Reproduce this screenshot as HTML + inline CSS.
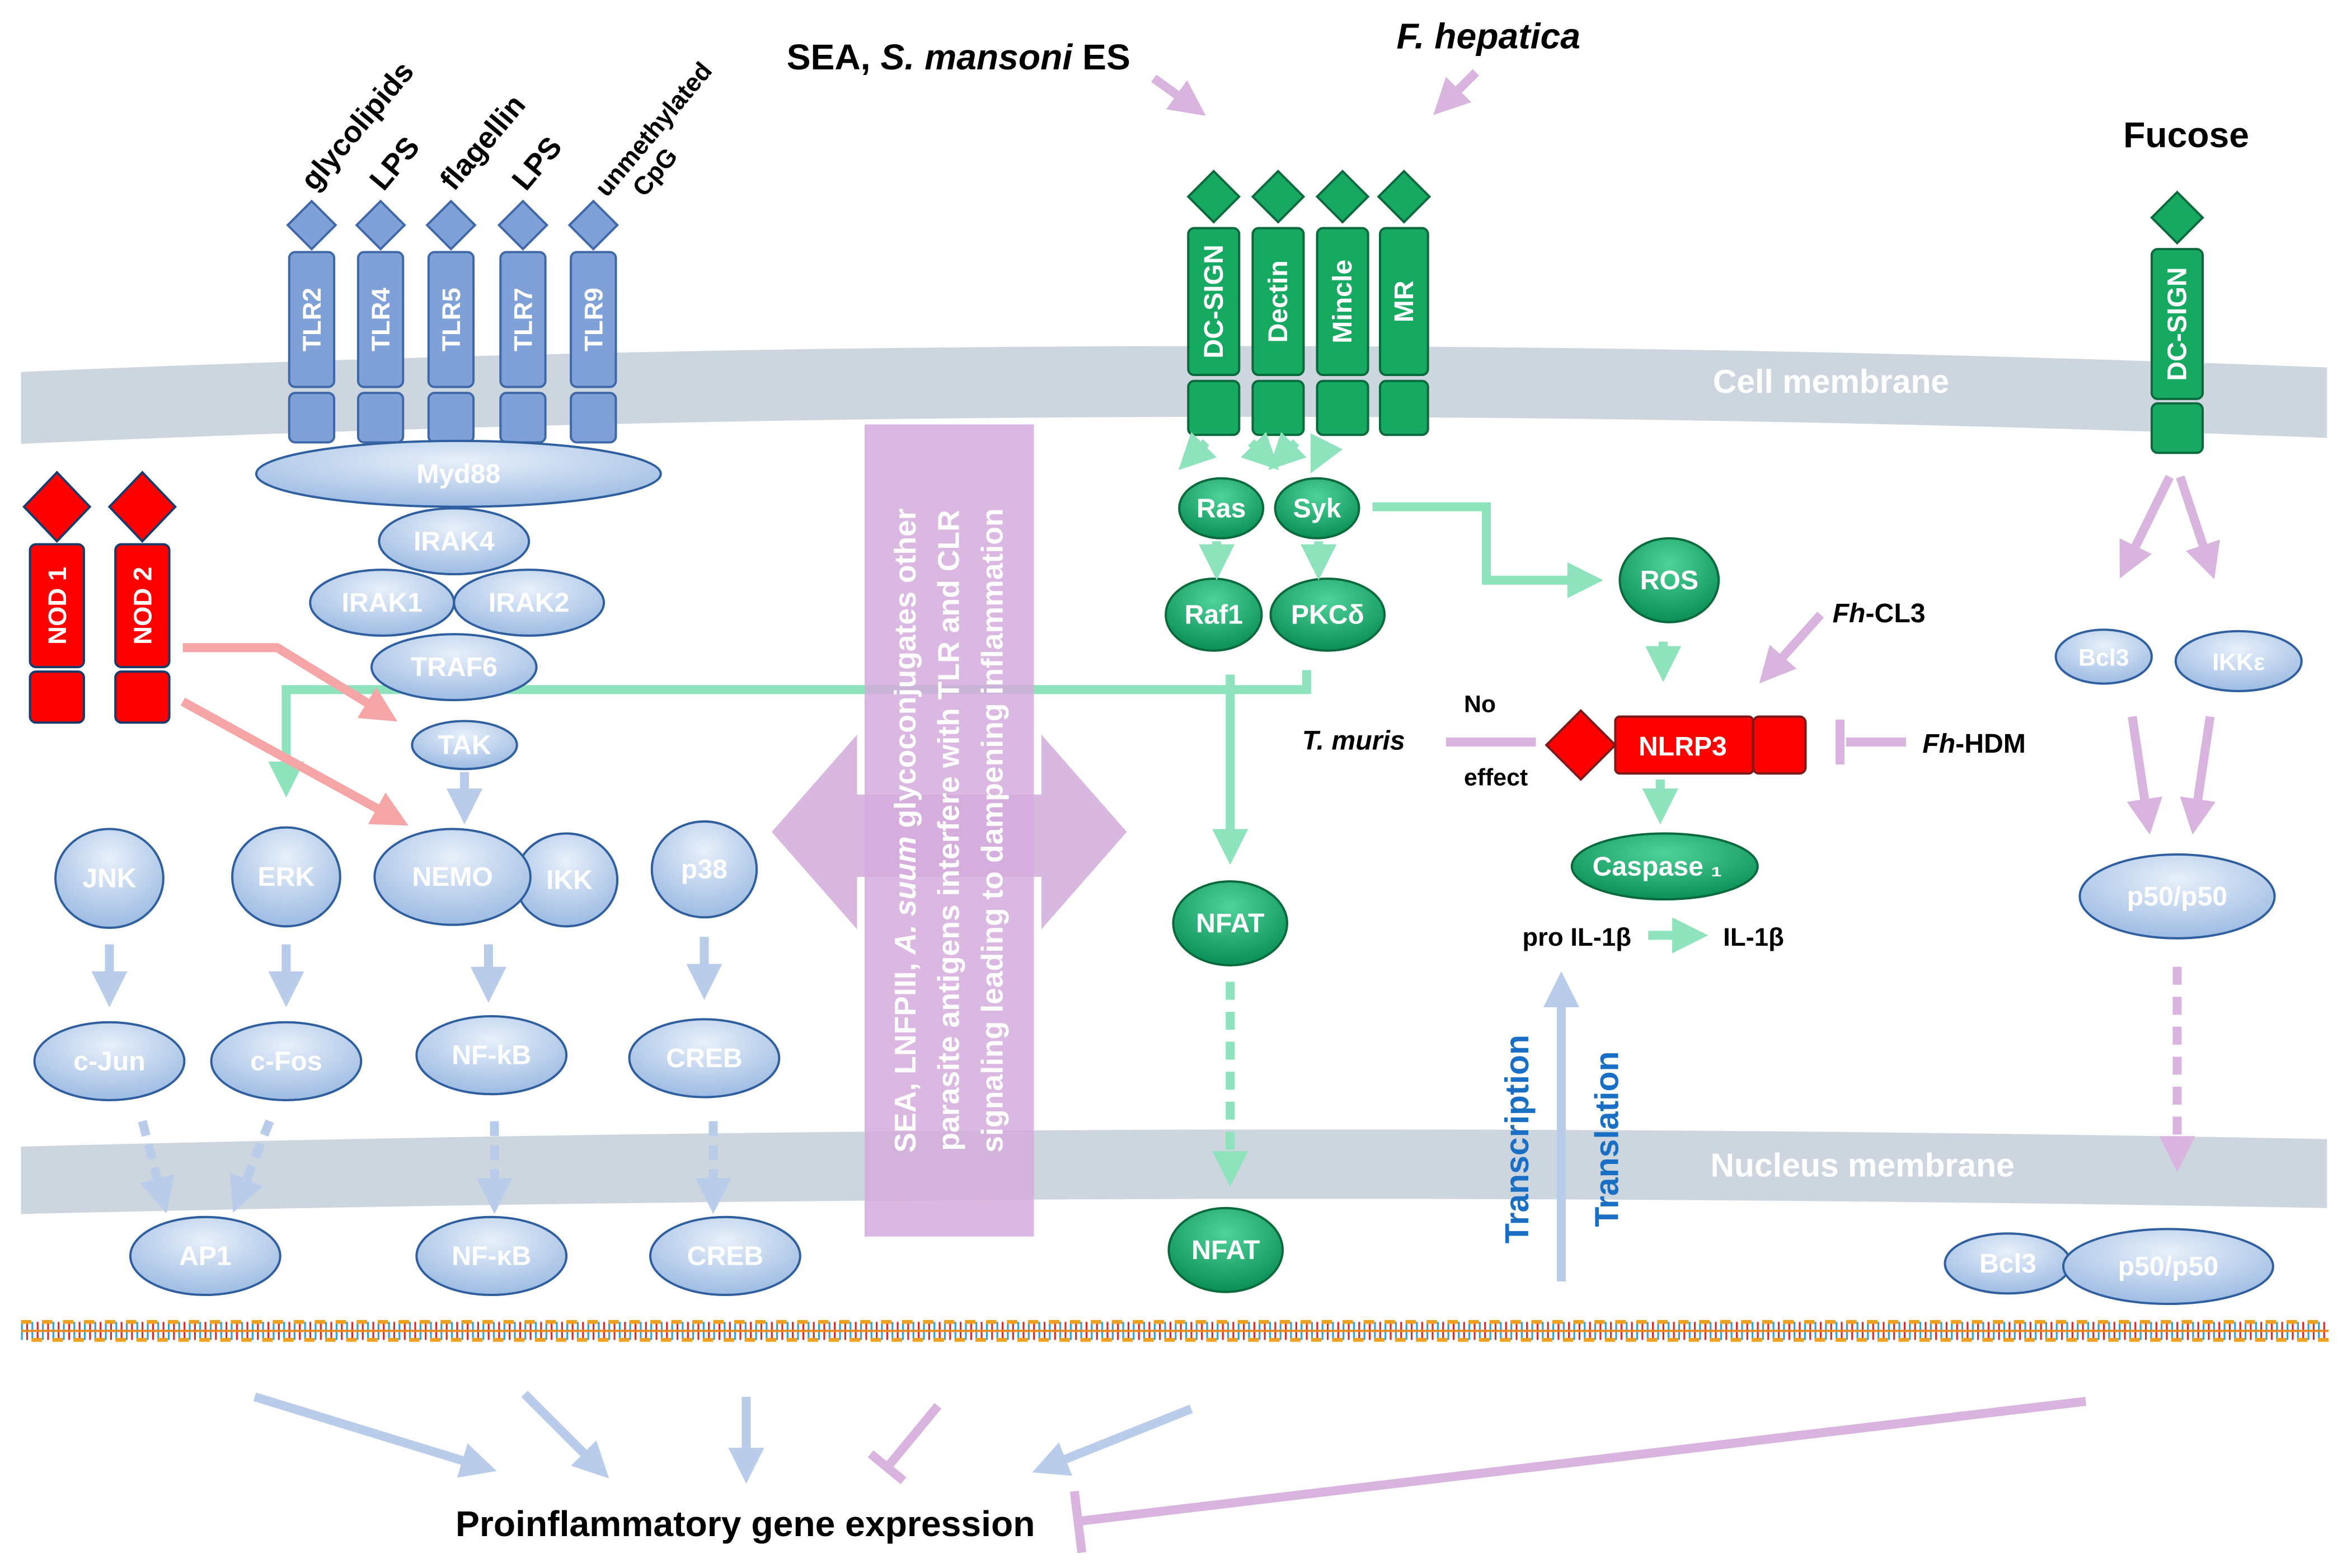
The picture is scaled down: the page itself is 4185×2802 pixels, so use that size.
<!DOCTYPE html>
<html><head><meta charset="utf-8"><style>
html,body{margin:0;padding:0;background:#fff}
svg{display:block}
text{font-family:"Liberation Sans",sans-serif;font-weight:bold}
</style></head><body>
<svg width="4185" height="2802" viewBox="0 0 1563 1046" xmlns="http://www.w3.org/2000/svg">
<defs>
<radialGradient id="gb" cx="50%" cy="30%" r="70%"><stop offset="0" stop-color="#e8f0fa"/><stop offset="1" stop-color="#9dbbe3"/></radialGradient>
<radialGradient id="gg" cx="50%" cy="30%" r="70%"><stop offset="0" stop-color="#4fd39a"/><stop offset="1" stop-color="#0b8f58"/></radialGradient>
<marker id="ab" markerWidth="4" markerHeight="4" refX="2" refY="2" orient="auto" markerUnits="strokeWidth"><path d="M0,0 L4,2 L0,4z" fill="#b9cdea"/></marker>
<marker id="ag" markerWidth="4" markerHeight="4" refX="2" refY="2" orient="auto" markerUnits="strokeWidth"><path d="M0,0 L4,2 L0,4z" fill="#8ee3bd"/></marker>
<marker id="ap" markerWidth="4" markerHeight="4" refX="2" refY="2" orient="auto" markerUnits="strokeWidth"><path d="M0,0 L4,2 L0,4z" fill="#d8b4df"/></marker>
<marker id="ar" markerWidth="4" markerHeight="4" refX="2" refY="2" orient="auto" markerUnits="strokeWidth"><path d="M0,0 L4,2 L0,4z" fill="#f5a5a5"/></marker>
</defs>

<!-- membranes -->
<path d="M14,248 Q780,215 1553,245 L1553,292 Q780,262 14,296 Z" fill="#cdd6df"/>
<path d="M14,765 Q780,745 1553,760 L1553,806 Q780,792 14,810 Z" fill="#cdd6df"/>
<text x="1222" y="262" font-size="22" fill="#fff" text-anchor="middle">Cell membrane</text>
<text x="1243" y="785" font-size="22" fill="#fff" text-anchor="middle">Nucleus membrane</text>

<!-- DNA -->
<g>
<line x1="14" y1="888" x2="1554" y2="888" stroke="#3aa0d0" stroke-width="12" stroke-dasharray="1.2,5.8"/>
<line x1="17.5" y1="888" x2="1554" y2="888" stroke="#d03030" stroke-width="12" stroke-dasharray="1.2,5.8"/>
<line x1="14" y1="882" x2="1554" y2="882" stroke="#f0a020" stroke-width="2.5" stroke-dasharray="7,7"/>
<line x1="21" y1="894" x2="1554" y2="894" stroke="#f0a020" stroke-width="2.5" stroke-dasharray="7,7"/>
<line x1="14" y1="888" x2="1554" y2="888" stroke="#e88a20" stroke-width="1.5"/>
</g>

<!-- green long line (behind box) -->
<g stroke="#8ee3bd" stroke-width="6" fill="none">
<path d="M872,447 L872,460 L191,460 L191,520" marker-end="url(#ag)"/>
</g>

<!-- purple box & double arrow -->
<path d="M515,555 L572,490 L572,530 L695,530 L695,490 L752,555 L695,620 L695,585 L572,585 L572,620 Z" fill="#d9b8e0"/>
<rect x="577" y="283" width="113" height="542" fill="#d4acdc" opacity="0.85"/>
<g font-size="20" fill="#fff" text-anchor="middle">
<text transform="translate(611,554) rotate(-90)">SEA, LNFPIII, <tspan font-style="italic">A. suum</tspan> glycoconjugates other</text>
<text transform="translate(640,554) rotate(-90)">parasite antigens interfere with TLR and CLR</text>
<text transform="translate(669,554) rotate(-90)">signaling leading to dampening inflammation</text>
</g>

<!-- TLRs -->
<g fill="#7fa1d8" stroke="#3f68a8" stroke-width="1.5">
<path d="M208,134 L224,150 L208,166 L192,150Z"/><rect x="193" y="168" width="30" height="90" rx="4"/><rect x="193" y="262" width="30" height="33" rx="4"/>
<path d="M254,134 L270,150 L254,166 L238,150Z"/><rect x="239" y="168" width="30" height="90" rx="4"/><rect x="239" y="262" width="30" height="33" rx="4"/>
<path d="M301,134 L317,150 L301,166 L285,150Z"/><rect x="286" y="168" width="30" height="90" rx="4"/><rect x="286" y="262" width="30" height="33" rx="4"/>
<path d="M349,134 L365,150 L349,166 L333,150Z"/><rect x="334" y="168" width="30" height="90" rx="4"/><rect x="334" y="262" width="30" height="33" rx="4"/>
<path d="M396,134 L412,150 L396,166 L380,150Z"/><rect x="381" y="168" width="30" height="90" rx="4"/><rect x="381" y="262" width="30" height="33" rx="4"/>
</g>
<g font-size="17" fill="#fff" text-anchor="middle">
<text transform="translate(214,213) rotate(-90)">TLR2</text>
<text transform="translate(260,213) rotate(-90)">TLR4</text>
<text transform="translate(307,213) rotate(-90)">TLR5</text>
<text transform="translate(355,213) rotate(-90)">TLR7</text>
<text transform="translate(402,213) rotate(-90)">TLR9</text>
</g>
<g font-size="20" fill="#000">
<text transform="translate(210,128) rotate(-50)">glycolipids</text>
<text transform="translate(256,128) rotate(-50)">LPS</text>
<text transform="translate(303,128) rotate(-50)">flagellin</text>
<text transform="translate(351,128) rotate(-50)">LPS</text>
<text transform="translate(405,132) rotate(-50)" font-size="17">unmethylated</text>
<text transform="translate(430,132) rotate(-50)" font-size="17">CpG</text>
</g>

<!-- blue ellipses -->
<g fill="url(#gb)" stroke="#2f5f9e" stroke-width="1.5">
<ellipse cx="306" cy="316" rx="135" ry="22"/>
<ellipse cx="303" cy="361" rx="50" ry="22"/>
<ellipse cx="255" cy="402" rx="48" ry="22"/>
<ellipse cx="353" cy="402" rx="50" ry="22"/>
<ellipse cx="303" cy="445" rx="55" ry="22"/>
<ellipse cx="310" cy="497" rx="35" ry="16"/>
<ellipse cx="73" cy="586" rx="36" ry="33"/>
<ellipse cx="191" cy="585" rx="36" ry="33"/>
<ellipse cx="378" cy="587" rx="34" ry="31"/>
<ellipse cx="302" cy="585" rx="52" ry="32"/>
<ellipse cx="470" cy="580" rx="35" ry="32"/>
<ellipse cx="73" cy="708" rx="50" ry="26"/>
<ellipse cx="191" cy="708" rx="50" ry="26"/>
<ellipse cx="328" cy="704" rx="50" ry="26"/>
<ellipse cx="470" cy="706" rx="50" ry="26"/>
<ellipse cx="137" cy="838" rx="50" ry="26"/>
<ellipse cx="328" cy="838" rx="50" ry="26"/>
<ellipse cx="484" cy="838" rx="50" ry="26"/>
<ellipse cx="1404" cy="438" rx="32" ry="18"/>
<ellipse cx="1494" cy="441" rx="42" ry="20"/>
<ellipse cx="1453" cy="598" rx="65" ry="28"/>
<ellipse cx="1340" cy="843" rx="42" ry="20"/>
<ellipse cx="1447" cy="845" rx="70" ry="25"/>
</g>
<g font-size="18" fill="#fff" text-anchor="middle">
<text x="306" y="322">Myd88</text>
<text x="303" y="367">IRAK4</text>
<text x="255" y="408">IRAK1</text>
<text x="353" y="408">IRAK2</text>
<text x="303" y="451">TRAF6</text>
<text x="310" y="503">TAK</text>
<text x="73" y="592">JNK</text>
<text x="191" y="591">ERK</text>
<text x="302" y="591">NEMO</text>
<text x="380" y="593">IKK</text>
<text x="470" y="586">p38</text>
<text x="73" y="714">c-Jun</text>
<text x="191" y="714">c-Fos</text>
<text x="328" y="710">NF-kB</text>
<text x="470" y="712">CREB</text>
<text x="137" y="844">AP1</text>
<text x="328" y="844">NF-κB</text>
<text x="484" y="844">CREB</text>
<text x="1404" y="444" font-size="16">Bcl3</text>
<text x="1494" y="447" font-size="16">IKKε</text>
<text x="1453" y="604">p50/p50</text>
<text x="1340" y="849">Bcl3</text>
<text x="1447" y="851">p50/p50</text>
</g>

<!-- NODs -->
<g fill="#f00" stroke="#1a3a6a" stroke-width="1.5">
<path d="M38,315 L60,338 L38,361 L16,338Z"/><rect x="20" y="363" width="36" height="82" rx="4"/><rect x="20" y="448" width="36" height="34" rx="4"/>
<path d="M95,315 L117,338 L95,361 L73,338Z"/><rect x="77" y="363" width="36" height="82" rx="4"/><rect x="77" y="448" width="36" height="34" rx="4"/>
</g>
<g font-size="17" fill="#fff" text-anchor="middle">
<text transform="translate(44,404) rotate(-90)">NOD 1</text>
<text transform="translate(101,404) rotate(-90)">NOD 2</text>
</g>

<!-- green receptors -->
<g fill="#17a862" stroke="#0a6a3c" stroke-width="1.5">
<path d="M810,114 L827,131 L810,148 L793,131Z"/><rect x="793" y="152" width="34" height="98" rx="4"/><rect x="793" y="254" width="34" height="36" rx="4"/>
<path d="M853,114 L870,131 L853,148 L836,131Z"/><rect x="836" y="152" width="34" height="98" rx="4"/><rect x="836" y="254" width="34" height="36" rx="4"/>
<path d="M896,114 L913,131 L896,148 L879,131Z"/><rect x="879" y="152" width="34" height="98" rx="4"/><rect x="879" y="254" width="34" height="36" rx="4"/>
<path d="M937,114 L954,131 L937,148 L920,131Z"/><rect x="921" y="152" width="32" height="98" rx="4"/><rect x="921" y="254" width="32" height="36" rx="4"/>
<path d="M1453,128 L1470,145 L1453,162 L1436,145Z"/><rect x="1436" y="166" width="34" height="100" rx="4"/><rect x="1436" y="269" width="34" height="33" rx="4"/>
</g>
<g font-size="18" fill="#fff" text-anchor="middle">
<text transform="translate(816,201) rotate(-90)">DC-SIGN</text>
<text transform="translate(859,201) rotate(-90)">Dectin</text>
<text transform="translate(902,201) rotate(-90)">Mincle</text>
<text transform="translate(943,201) rotate(-90)">MR</text>
<text transform="translate(1459,216) rotate(-90)">DC-SIGN</text>
</g>

<!-- green ellipses -->
<g fill="url(#gg)" stroke="#0a6a3c" stroke-width="1.5">
<ellipse cx="815" cy="339" rx="28" ry="20"/>
<ellipse cx="879" cy="339" rx="28" ry="20"/>
<ellipse cx="810" cy="410" rx="32" ry="24"/>
<ellipse cx="886" cy="410" rx="38" ry="24"/>
<ellipse cx="1114" cy="387" rx="33" ry="28"/>
<ellipse cx="821" cy="616" rx="38" ry="28"/>
<ellipse cx="818" cy="834" rx="38" ry="28"/>
<ellipse cx="1111" cy="578" rx="62" ry="22"/>
</g>
<g font-size="18" fill="#fff" text-anchor="middle">
<text x="815" y="345">Ras</text>
<text x="879" y="345">Syk</text>
<text x="810" y="416">Raf1</text>
<text x="886" y="416">PKCδ</text>
<text x="1114" y="393">ROS</text>
<text x="821" y="622">NFAT</text>
<text x="818" y="840">NFAT</text>
<text x="1106" y="584">Caspase ₁</text>
</g>

<!-- NLRP3 -->
<g fill="#f00" stroke="#7a1a1a" stroke-width="1.5">
<path d="M1055,474 L1078,497 L1055,520 L1032,497Z"/>
<rect x="1078" y="478" width="92" height="38" rx="3"/>
<rect x="1170" y="478" width="35" height="38" rx="4"/>
</g>
<text x="1123" y="504" font-size="18" fill="#fff" text-anchor="middle">NLRP3</text>

<!-- green arrows -->
<g stroke="#8ee3bd" stroke-width="6" fill="none">
<path d="M805,295 L795,305" marker-end="url(#ag)"/>
<path d="M835,295 L845,305" marker-end="url(#ag)"/>
<path d="M865,295 L855,305" marker-end="url(#ag)"/>
<path d="M885,295 L880,305" marker-end="url(#ag)"/>
<path d="M812,361 L812,375" marker-end="url(#ag)"/>
<path d="M880,361 L880,375" marker-end="url(#ag)"/>
<path d="M916,338 L992,338 L992,387 L1058,387" marker-end="url(#ag)"/>
<path d="M1110,428 L1110,443" marker-end="url(#ag)"/>
<path d="M1108,520 L1108,538" marker-end="url(#ag)"/>
<path d="M821,450 L821,565" marker-end="url(#ag)"/>
<path d="M821,655 L821,780" stroke-dasharray="12,8" marker-end="url(#ag)"/>
<path d="M1100,624 L1128,624" marker-end="url(#ag)"/>
</g>

<!-- blue arrows -->
<g stroke="#b9cdea" stroke-width="6" fill="none">
<path d="M310,515 L310,538" marker-end="url(#ab)"/>
<path d="M73,630 L73,660" marker-end="url(#ab)"/>
<path d="M191,630 L191,660" marker-end="url(#ab)"/>
<path d="M326,630 L326,657" marker-end="url(#ab)"/>
<path d="M470,625 L470,655" marker-end="url(#ab)"/>
<path d="M95,748 L108,798" stroke-dasharray="10,6" marker-end="url(#ab)"/>
<path d="M180,748 L160,798" stroke-dasharray="10,6" marker-end="url(#ab)"/>
<path d="M330,748 L330,798" stroke-dasharray="10,6" marker-end="url(#ab)"/>
<path d="M476,748 L476,798" stroke-dasharray="10,6" marker-end="url(#ab)"/>
<path d="M1042,855 L1042,660" marker-end="url(#ab)"/>
<path d="M170,932 L320,978" marker-end="url(#ab)"/>
<path d="M350,930 L398,978" marker-end="url(#ab)"/>
<path d="M498,932 L498,978" marker-end="url(#ab)"/>
<path d="M795,940 L700,978" marker-end="url(#ab)"/>
</g>

<!-- red arrows -->
<g stroke="#f5a5a5" stroke-width="6" fill="none">
<path d="M122,432 L185,432 L255,475" marker-end="url(#ar)"/>
<path d="M122,468 L262,545" marker-end="url(#ar)"/>
</g>

<!-- purple arrows -->
<g stroke="#d8b4df" stroke-width="6" fill="none">
<path d="M770,52 L795,70" marker-end="url(#ap)"/>
<path d="M985,48 L965,68" marker-end="url(#ap)"/>
<path d="M1448,318 L1420,375" marker-end="url(#ap)"/>
<path d="M1455,318 L1474,375" marker-end="url(#ap)"/>
<path d="M1423,478 L1433,545" marker-end="url(#ap)"/>
<path d="M1475,478 L1465,545" marker-end="url(#ap)"/>
<path d="M1453,645 L1453,770" stroke-dasharray="12,8" marker-end="url(#ap)"/>
<path d="M1215,410 L1182,447" marker-end="url(#ap)"/>
<path d="M965,495 L1025,495"/>
<path d="M1272,495 L1232,495"/><path d="M1228,480 L1228,510"/>
<path d="M626,938 L593,978"/><path d="M581,970 L603,988"/>
<path d="M1392,935 L720,1015"/><path d="M717,995 L722,1036"/>
</g>

<!-- texts -->
<g font-size="24" fill="#000">
<text x="525" y="46">SEA, <tspan font-style="italic">S. mansoni</tspan> ES</text>
<text x="932" y="32" font-style="italic">F. hepatica</text>
<text x="1417" y="98">Fucose</text>
<text x="304" y="1025">Proinflammatory gene expression</text>
</g>
<g font-size="18" fill="#000">
<text x="1223" y="415"><tspan font-style="italic">Fh</tspan>-CL3</text>
<text x="1283" y="502"><tspan font-style="italic">Fh</tspan>-HDM</text>
<text x="869" y="500" font-style="italic">T. muris</text>
<text x="977" y="475" font-size="16">No</text>
<text x="977" y="524" font-size="16">effect</text>
<text x="1016" y="631" font-size="17">pro IL-1β</text>
<text x="1150" y="631" font-size="17">IL-1β</text>
</g>
<g font-size="22" fill="#1a6fc4" text-anchor="middle">
<text transform="translate(1020,760) rotate(-90)">Transcription</text>
<text transform="translate(1080,760) rotate(-90)">Translation</text>
</g>
</svg>
</body></html>
